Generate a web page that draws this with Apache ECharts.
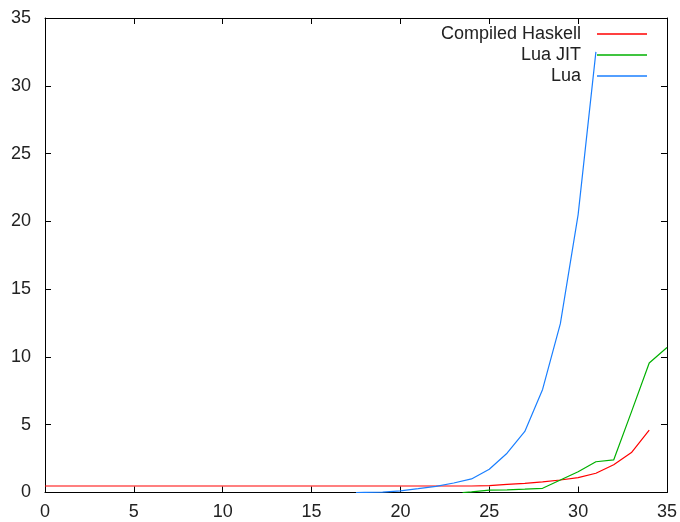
<!DOCTYPE html>
<html>
<head>
<meta charset="utf-8">
<script src="https://cdn.jsdelivr.net/npm/echarts@6/dist/echarts.min.js"></script>
<style>
html,body{margin:0;padding:0;background:#fff;}
#chart{width:680px;height:522px;}
</style>
</head>
<body>
<div id="chart"></div>
<script>
// Data
const seriesNames = ['Compiled Haskell', 'Lua JIT', 'Lua'];
const xTicks = [0, 5, 10, 15, 20, 25, 30, 35];
const yTicks = [0, 5, 10, 15, 20, 25, 30, 35];

const haskellX = [0,1,2,3,4,5,6,7,8,9,10,11,12,13,14,15,16,17,18,19,20,21,22,23,24,25,26,27,28,29,30,31,32,33,34];
const haskellY = [0.48,0.48,0.48,0.48,0.48,0.48,0.48,0.48,0.48,0.48,0.48,0.48,0.48,0.48,0.48,0.48,0.48,0.48,0.48,0.48,0.48,0.48,0.48,0.48,0.48,0.5,0.6,0.67,0.78,0.92,1.1,1.42,2.05,2.95,4.6];

const luaJitX = [23.5,24,25,26,27,28,29,30,31,32,33,34,35];
const luaJitY = [0.0,0.05,0.18,0.2,0.25,0.31,0.92,1.53,2.27,2.4,5.95,9.55,10.7];

const luaX = [17.5,18,19,20,21,22,23,24,25,26,27,28,29,30,31];
const luaY = [0.0,0.01,0.03,0.12,0.28,0.45,0.7,1.0,1.72,2.9,4.5,7.6,12.45,20.5,32.5];

const colors = ['#ff0000', '#00b000', '#1a7fff'];

function pairs(xs, ys) { return xs.map((x, i) => [x, ys[i]]); }

const chart = echarts.init(document.getElementById('chart'), null, {renderer: 'canvas'});
const FONT = '"Liberation Sans", Arial, sans-serif';
const axisLine = {show: true, onZero: false, lineStyle: {color: '#000', width: 1}};
const tickStyle = {show: true, inside: true, length: 6, lineStyle: {color: '#000', width: 1}};

function legendFor(i, top) {
  return {
    data: [seriesNames[i]],
    right: 33,
    top: top,
    orient: 'vertical',
    align: 'right',
    icon: 'rect',
    itemWidth: 50,
    itemHeight: 1.5,
    padding: 0,
    selectedMode: false,
    textStyle: {fontFamily: FONT, fontSize: 18, color: '#222', padding: [0, 11, 0, 0], lineHeight: 20}
  };
}

const option = {
  animation: false,
  backgroundColor: '#fff',
  color: colors,
  grid: {left: 45, right: 12, top: 18, bottom: 29.5, containLabel: false},
  legend: [legendFor(0, 24), legendFor(1, 45), legendFor(2, 66)],
  xAxis: [
    {type: 'value', position: 'bottom', min: 0, max: 35, interval: 5,
     axisLine: axisLine, axisTick: tickStyle, splitLine: {show: false},
     axisLabel: {fontFamily: FONT, fontSize: 18, color: '#222', margin: 11,
       formatter: v => xTicks.includes(v) ? String(v) : ''}},
    {type: 'value', position: 'top', min: 0, max: 35, interval: 5,
     axisLine: axisLine, axisTick: tickStyle, splitLine: {show: false},
     axisLabel: {show: false}}
  ],
  yAxis: [
    {type: 'value', position: 'left', min: 0, max: 35, interval: 5,
     axisLine: axisLine, axisTick: tickStyle, splitLine: {show: false},
     axisLabel: {fontFamily: FONT, fontSize: 18, color: '#222', margin: 14,
       formatter: v => yTicks.includes(v) ? String(v) : ''}},
    {type: 'value', position: 'right', min: 0, max: 35, interval: 5,
     axisLine: axisLine, axisTick: tickStyle, splitLine: {show: false},
     axisLabel: {show: false}}
  ],
  series: [
    {name: seriesNames[0], type: 'line', data: pairs(haskellX, haskellY), showSymbol: false, symbol: 'none', lineStyle: {width: 1.2}, xAxisIndex: 0, yAxisIndex: 0},
    {name: seriesNames[1], type: 'line', data: pairs(luaJitX, luaJitY), showSymbol: false, symbol: 'none', lineStyle: {width: 1.2}, xAxisIndex: 0, yAxisIndex: 0},
    {name: seriesNames[2], type: 'line', data: pairs(luaX, luaY), showSymbol: false, symbol: 'none', lineStyle: {width: 1.2}, xAxisIndex: 0, yAxisIndex: 0}
  ]
};
chart.setOption(option);
</script>
</body>
</html>
